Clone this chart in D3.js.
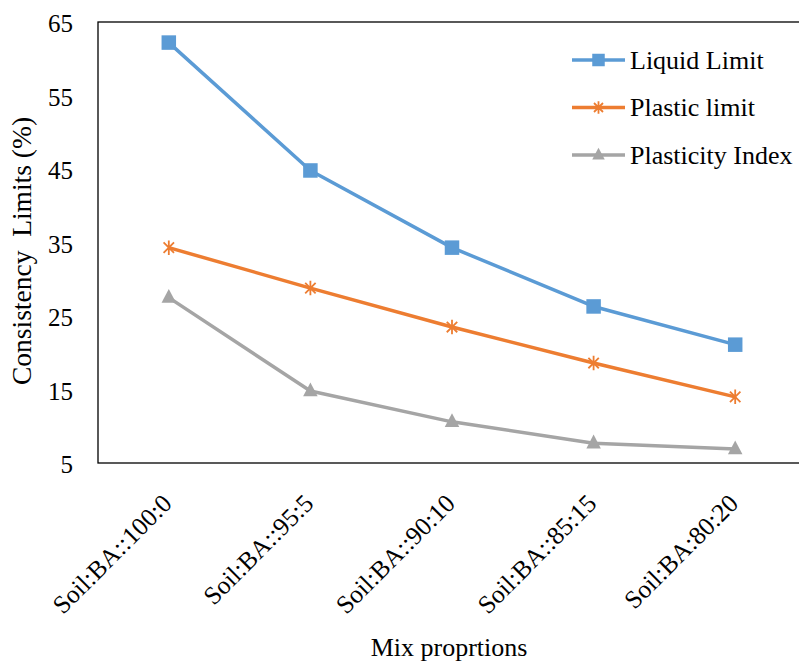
<!DOCTYPE html>
<html>
<head>
<meta charset="utf-8">
<script src="https://cdn.jsdelivr.net/npm/d3@7/dist/d3.min.js"></script>
<style>
  html, body { margin: 0; padding: 0; background: #fff; }
  svg { display: block; }
</style>
</head>
<body>
<svg id="chart" width="799" height="664"></svg>
<script>
// Mix proportions (x categories)
const categories = ["Soil:BA::100:0", "Soil:BA::95:5", "Soil:BA::90:10", "Soil:BA::85:15", "Soil:BA:80:20"];
// Consistency limits (%)
const liquidLimit = [62.2, 44.8, 34.3, 26.3, 21.1];
const plasticLimit = [34.3, 28.8, 23.5, 18.6, 14.0];
const plasticityIndex = [27.5, 14.8, 10.6, 7.7, 6.9];
const yTicks = [5, 15, 25, 35, 45, 55, 65];
const seriesNames = ["Liquid Limit", "Plastic limit", "Plasticity Index"];

const series = [
  { name: seriesNames[0], values: liquidLimit, color: "#5B9BD5", marker: "square" },
  { name: seriesNames[1], values: plasticLimit, color: "#ED7D31", marker: "star" },
  { name: seriesNames[2], values: plasticityIndex, color: "#A5A5A5", marker: "triangle" }
];

const FONT = '"Liberation Serif"';
const svg = d3.select("#chart");
const plot = { left: 98, right: 806, top: 22, bottom: 463 };

const x = d3.scalePoint().domain(categories).range([plot.left, plot.right]).padding(0.5);
const y = d3.scaleLinear().domain([5, 65]).range([plot.bottom, plot.top]);

// plot frame
svg.append("rect")
  .attr("x", plot.left).attr("y", plot.top)
  .attr("width", plot.right - plot.left).attr("height", plot.bottom - plot.top)
  .attr("fill", "none").attr("stroke", "#000").attr("stroke-width", 1.3);

// y axis (labels only)
const yAxis = d3.axisLeft(y).tickValues(yTicks).tickSize(0).tickPadding(25);
const gy = svg.append("g").attr("transform", `translate(${plot.left},0)`).call(yAxis);
gy.select(".domain").remove();
gy.selectAll("text")
  .attr("dy", "0.38em")
  .style("font-family", FONT).style("font-size", "25px").style("fill", "#000");

// x axis with rotated labels
const xAxis = d3.axisBottom(x).tickSize(0).tickPadding(0);
const gx = svg.append("g").attr("transform", `translate(0,${plot.bottom})`).call(xAxis);
gx.select(".domain").remove();
gx.selectAll("text")
  .style("font-family", FONT).style("font-size", "25.5px").style("fill", "#000")
  .attr("text-anchor", "end")
  .attr("dy", null).attr("y", 0)
  .attr("transform", "translate(4,42) rotate(-45)");

// axis titles
svg.append("text")
  .attr("x", 449).attr("y", 656)
  .attr("text-anchor", "middle")
  .style("font-family", FONT).style("font-size", "26px")
  .text("Mix proprtions");
svg.append("text")
  .attr("transform", "translate(31,251) rotate(-90)")
  .attr("text-anchor", "middle")
  .style("font-family", FONT).style("font-size", "27.5px")
  .style("white-space", "pre")
  .text("Consistency  Limits (%)");

// marker drawing
function drawMarker(g, type, color, size) {
  if (type === "square") {
    g.append("rect").attr("x", -size / 2).attr("y", -size / 2)
      .attr("width", size).attr("height", size).attr("fill", color);
  } else if (type === "triangle") {
    const h = size * 0.95;
    g.append("path")
      .attr("d", `M0,${-h * 0.62}L${size / 2},${h * 0.38}L${-size / 2},${h * 0.38}Z`)
      .attr("fill", color);
  } else if (type === "star") {
    const r = size / 2;
    const d = r * 0.72;
    g.append("path")
      .attr("d", `M0,${-r}V${r}M${-d},${-d}L${d},${d}M${-d},${d}L${d},${-d}`)
      .attr("stroke", color).attr("stroke-width", 1.8).attr("fill", "none");
  }
}

const line = d3.line().x((d, i) => x(categories[i])).y(d => y(d));

series.forEach(s => {
  svg.append("path").datum(s.values)
    .attr("d", line)
    .attr("fill", "none").attr("stroke", s.color)
    .attr("stroke-width", 3.5).attr("stroke-linejoin", "round");
  s.values.forEach((v, i) => {
    const g = svg.append("g").attr("transform", `translate(${x(categories[i])},${y(v)})`);
    drawMarker(g, s.marker, s.color, 14.5);
  });
});

// legend
const legend = svg.append("g");
series.forEach((s, i) => {
  const ly = 60 + i * 47.5;
  legend.append("line")
    .attr("x1", 572).attr("x2", 625).attr("y1", ly).attr("y2", ly)
    .attr("stroke", s.color).attr("stroke-width", 3.5);
  const g = legend.append("g").attr("transform", `translate(598.5,${ly})`);
  drawMarker(g, s.marker, s.color, 12.5);
  legend.append("text")
    .attr("x", 630).attr("y", ly).attr("dy", "0.33em")
    .style("font-family", FONT).style("font-size", "26px").style("fill", "#000")
    .text(s.name);
});
</script>
</body>
</html>
